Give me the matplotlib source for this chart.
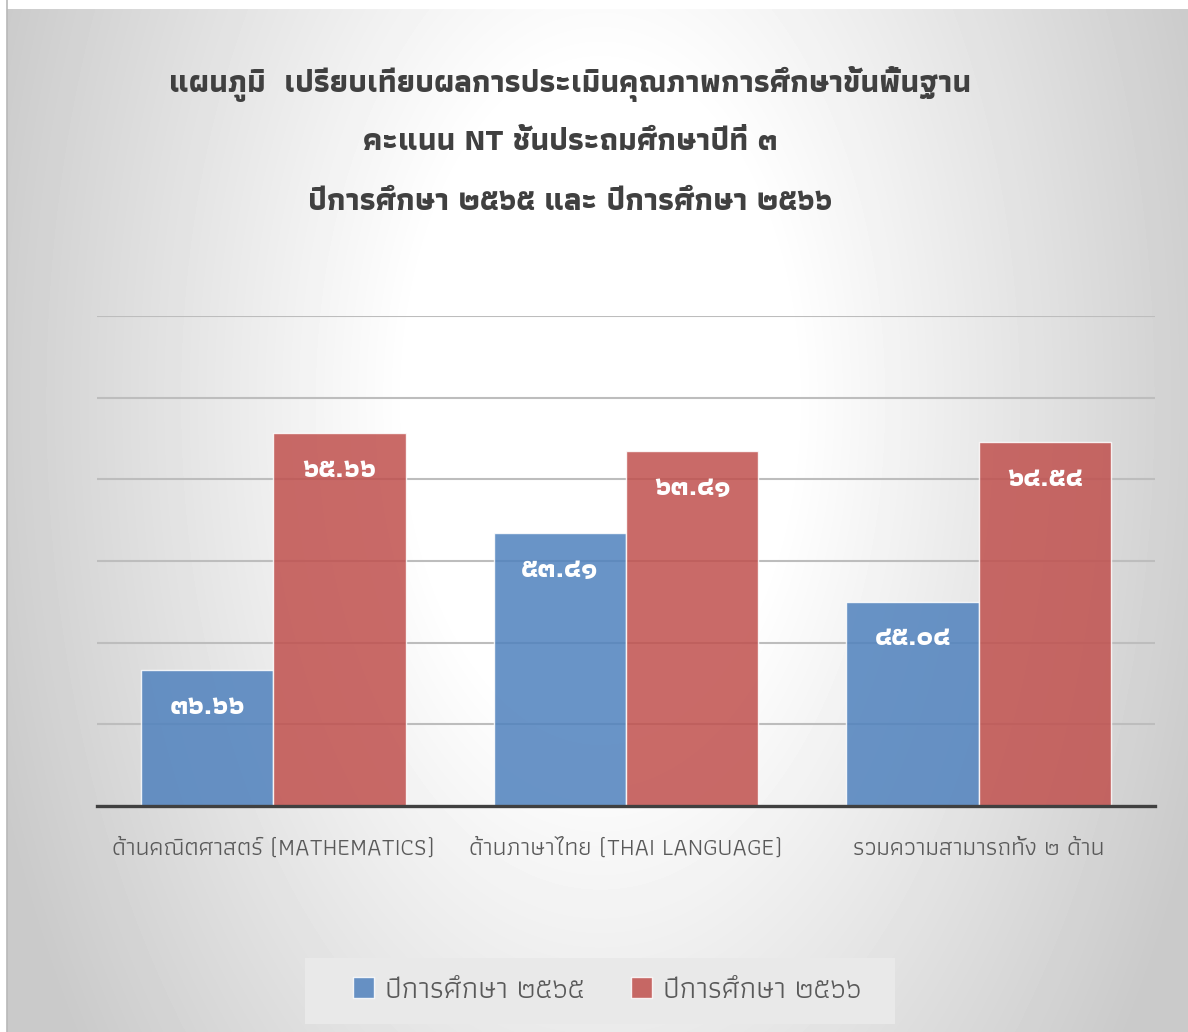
import matplotlib
matplotlib.use("Agg")
import matplotlib.pyplot as plt
from matplotlib.patches import Rectangle
import numpy as np

# data
categories = [
    "ด้านคณิตศาสตร์ (MATHEMATICS)",
    "ด้านภาษาไทย (THAI LANGUAGE)",
    "รวมความสามารถทั้ง ๒ ด้าน",
]
series_names = ["ปีการศึกษา ๒๕๖๕", "ปีการศึกษา ๒๕๖๖"]
scores_2565 = [36.66, 53.41, 45.04]
scores_2566 = [65.66, 63.41, 64.54]
y_ticks = [20, 30, 40, 50, 60, 70, 80]
title_lines = [
    "แผนภูมิ  เปรียบเทียบผลการประเมินคุณภาพการศึกษาขั้นพื้นฐาน",
    "คะแนน NT ชั้นประถมศึกษาปีที่ ๓",
    "ปีการศึกษา ๒๕๖๕ และ ปีการศึกษา ๒๕๖๖",
]

THAI_DIGITS = str.maketrans("0123456789", "๐๑๒๓๔๕๖๗๘๙")
FONT = ["Athiti", "DejaVu Sans"]
plt.rcParams["font.family"] = FONT

W, H = 1188, 1032
fig = plt.figure(figsize=(W / 100, H / 100), dpi=100)
fig.patch.set_facecolor("white")

# radial grey background (chart area starts a few px in from left/top)
bg = fig.add_axes([7 / W, 0, 1 - 7 / W, 1 - 9 / H])
yy, xx = np.mgrid[9:H, 7:W]
d = np.sqrt(((xx - 600) / 640.0) ** 2 + ((yy - 400) / 1100.0) ** 2)
shade = 255 - 53 * np.clip((d - 0.3) / 0.7, 0, 1)
bg.imshow(shade, cmap="gray", vmin=0, vmax=255, aspect="auto", interpolation="bilinear")
bg.axis("off")
bg.plot([0, 0], [0, H], color="#b8b8b8", lw=1.2, transform=bg.transAxes, clip_on=False)

# plot area
ax = fig.add_axes([97 / W, 1 - 806 / H, (1155 - 97) / W, (806 - 316) / H])
ax.patch.set_alpha(0)
x = np.arange(len(categories))
bw = 0.375
b1 = ax.bar(x - bw / 2, scores_2565, bw, color="#4f81bd", alpha=0.85,
            edgecolor=(1, 1, 1, 0.45), linewidth=1, label=series_names[0], zorder=3)
b2 = ax.bar(x + bw / 2, scores_2566, bw, color="#c0504d", alpha=0.85,
            edgecolor=(1, 1, 1, 0.45), linewidth=1, label=series_names[1], zorder=3)

ax.set_xlim(-0.5, len(categories) - 0.5)
ax.set_ylim(y_ticks[0], y_ticks[-1])
ax.set_yticks(y_ticks[1:])
ax.yaxis.grid(True, color="#bdbdbd", linewidth=1.5, zorder=0)
ax.set_axisbelow(True)
ax.tick_params(axis="y", length=0, labelleft=False)
ax.tick_params(axis="x", length=0, pad=23)
for s in ["top", "right", "left"]:
    ax.spines[s].set_visible(False)
ax.spines["bottom"].set_color("#404040")
ax.spines["bottom"].set_linewidth(2.4)
ax.spines["bottom"].set_zorder(4)
ax.set_xticks(x)
ax.set_xticklabels(categories, fontsize=17.8, color="#595959")

for bars, vals in ((b1, scores_2565), (b2, scores_2566)):
    for rect, v in zip(bars, vals):
        ax.annotate(f"{v:.2f}".translate(THAI_DIGITS),
                    (rect.get_x() + rect.get_width() / 2, v),
                    xytext=(0, -26), textcoords="offset points",
                    ha="center", va="center", color="white",
                    fontsize=20.5, fontweight="bold", zorder=5)

# title
for i, line in enumerate(title_lines):
    fig.text(570 / W, 1 - (84 + 59 * i) / H, line, ha="center", va="center",
             fontsize=22.3, fontweight="bold", color="#404040")

# legend box + entries
fig.patches.append(Rectangle((305 / W, 1 - 1024 / H), 590 / W, 66 / H,
                             transform=fig.transFigure, facecolor="#e9e9e9",
                             edgecolor="none", zorder=1))
leg = fig.legend(handles=[b1, b2], labels=series_names, loc="center",
                 bbox_to_anchor=(607 / W, 1 - 990 / H), ncol=2, fontsize=21.5,
                 frameon=False, handlelength=0.7, handleheight=0.7,
                 columnspacing=1.55, handletextpad=0.37, borderpad=0.2)
leg.set_zorder(2)
for t in leg.get_texts():
    t.set_color("#595959")

fig.savefig("out.png", dpi=100)
